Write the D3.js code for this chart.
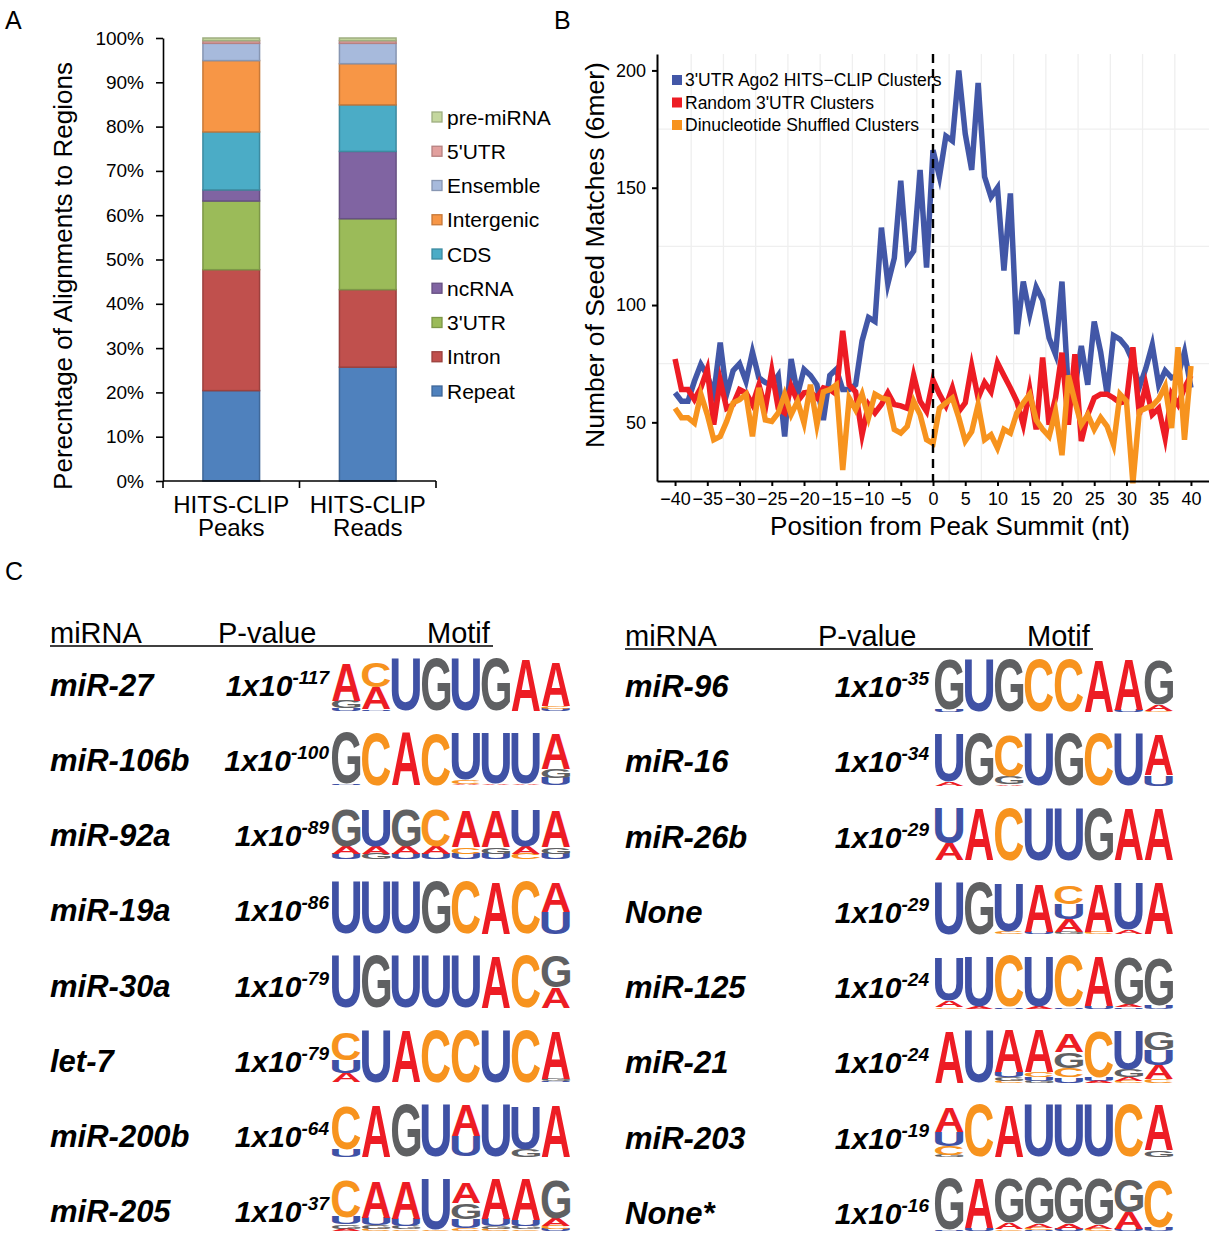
<!DOCTYPE html>
<html lang="en">
<head>
<meta charset="utf-8">
<title>Ago2 HITS-CLIP regions, seed matches and motifs</title>
<script src="https://cdn.jsdelivr.net/npm/d3@7"></script>
<style>
  body { margin: 0; background: #fff; }
  svg text { font-family: "Liberation Sans", Arial, Helvetica, sans-serif; }
</style>
</head>
<body>
<svg id="fig" width="1209" height="1233"></svg>
<script>
// ---------- panel A : genomic regions (% of alignments) ----------
const regionNames  = ["Repeat", "Intron", "3'UTR", "ncRNA", "CDS", "Intergenic", "Ensemble", "5'UTR", "pre-miRNA"];
const regionColors = ["#4f81bd", "#c0504d", "#9bbb59", "#8064a2", "#4bacc6", "#f79646", "#a7badc", "#e2a09e", "#c4d79e"];
const libraries    = ["Peaks", "Reads"];
const peaksPct     = [20.4, 27.3, 15.5, 2.5, 13.1, 16.1, 3.9, 0.6, 0.6];
const readsPct     = [25.7, 17.5, 16.0, 15.2, 10.5, 9.3, 4.6, 0.6, 0.6];
const pctTicks     = [0, 10, 20, 30, 40, 50, 60, 70, 80, 90, 100];

// ---------- panel B : seed matches around peak summit ----------
const positions = d3.range(-40, 41);
const agoClusters = [62.6, 59, 59, 67.5, 74.7, 70, 62, 84, 62, 72,
  75, 67.5, 80, 69, 67, 66, 70, 44, 77, 62,
  72.6, 70, 66, 51, 70, 72.6, 64, 64, 66, 84.7,
  94.7, 93, 133, 109, 120, 153, 119, 123, 157.6, 116,
  166, 154.7, 172, 170, 200, 173, 157.6, 194.7, 154.7, 146,
  150, 114.7, 147.6, 87.6, 110, 96, 107.6, 102, 86, 79,
  110, 63, 64.7, 82.6, 66, 93, 80, 62, 87, 85.4,
  82, 76, 65, 73, 83, 66, 72, 69, 70, 80, 64.7];
const randomClusters = [77, 64, 64, 59.7, 64.7, 72.6, 49, 68, 56, 57.6,
  64, 62.6, 57.6, 66, 56, 72, 56, 54, 65.4, 59,
  62.6, 63, 60.4, 64.7, 64, 62, 89, 66, 63, 44.7,
  57.6, 54, 57.6, 62.6, 57.6, 57, 56, 70, 59, 54.7,
  68, 62, 57, 64.7, 54.7, 58.3, 74, 60.4, 67, 63,
  75.4, 70, 64.7, 59, 49, 64, 47, 77.6, 49, 60.4,
  79.7, 49, 79, 42, 53.3, 60.4, 62, 62, 60.4, 58.3,
  59, 82, 53.3, 66, 53.3, 56, 43.3, 62, 57.6, 64.7, 70];
const shuffledClusters = [56, 52, 52, 49.7, 62, 53.3, 42.6, 44, 50.4, 58.3,
  59.7, 62, 44, 64.7, 51, 50.4, 54, 62, 53.3, 59,
  49.7, 66, 49, 63, 64, 66, 29.7, 60.4, 55.4, 62,
  52, 62, 60.4, 59.7, 47, 45.4, 48.3, 59, 53.3, 42.6,
  41, 56, 58.3, 60.4, 52, 42, 46, 57.6, 42.6, 44.7,
  39, 47, 45.4, 54, 58.3, 62, 51, 47, 44, 54.7,
  36, 70, 59, 49, 53.3, 47, 52, 48.3, 40.4, 62,
  59, 24, 54.7, 56, 57, 60, 65.4, 47.6, 82, 42.6, 74];
const seriesNames  = ["3'UTR Ago2 HITS\u2212CLIP Clusters", "Random 3'UTR Clusters", "Dinucleotide Shuffled Clusters"];
const seriesColors = ["#4257a7", "#ed1c24", "#f7931e"];
const seedTicks = [50, 100, 150, 200];
const posTicks  = d3.range(-40, 41, 5);

// ---------- panel C : motifs (letter heights in % of column) ----------
const leftNames  = ["miR-27", "miR-106b", "miR-92a", "miR-19a", "miR-30a", "let-7", "miR-200b", "miR-205"];
const leftExps   = ["-117", "-100", "-89", "-86", "-79", "-79", "-64", "-37"];
const leftMotifs = [
  "A70 G14 U5|C47 A40 U3|U97|G97|U97|G97|A97|A82 C5 U4",
  "G95 U3|C97|A98|C96|U86 C8 A2|U94 A2|U94 A3|A65 G16 U14",
  "G68 A13 U11|U68 A13 G11|G68 A13 U11|C68 A13 U11|A68 C13 U11|A68 G13 U11|U68 A13 C11|A68 G13 U11",
  "U97|U97|U97|G97|C97|A97|C97|A55 U40",
  "U97|G97|U97|U97|U97|A97|C97|G58 A38",
  "C52 A17 U24|U97|A97|C97|C97|U97|C97|A90 G4 U3",
  "C80 U13|A97|G97|U97|A57 U38|U97|U80 G14|A97",
  "C68 U13 G8 A4|A68 U14 G7 C4|A70 U14 G6 C3|U94 C3|A38 G30 U16 C5|A74 U13 G5 C4|A76 U11 G6 C3|G70 A14 C6 U4"
];
const rightNames  = ["miR-96", "miR-16", "miR-26b", "None", "miR-125", "miR-21", "miR-203", "None*"];
const rightExps   = ["-35", "-34", "-29", "-29", "-24", "-24", "-19", "-16"];
const rightMotifs = [
  "G92 U5|U97|G97|C97|C97|A97|A93 U4|G82 A12 C2",
  "U88 A8|G97|C76 G15 A3|U97|G97|C97|U97|A74 U20",
  "U64 A32|A97|C97|U97|U97|G97|A97|A97",
  "U97|G97|U90 C5|A90 U5|C34 A24 U28 G4|A90 C4|U86 A8|A97",
  "U80 A12 C3|U92 A4|C94 U3|U92 A4|C94 U3|A92 U4|G88 A5 U3|G88 U6",
  "A97|U97|A78 U9 G6 C4|A78 C9 U6 G4|A34 G30 C16 U10|C85 U6 A4|U72 G14 A6 C4|G34 U28 A26 C6",
  "A46 U26 C16 G4|C97|A97|U97|U97|U97|C97|A84 G12",
  "G95 U3|A92 U5|G82 A12 C3|G84 A8 C4 U2|G84 A10 U4|G86 A7 C4|G60 A30 U4|C88 U6"
];
const baseColors = {A: "#ed1c24", C: "#f7931e", G: "#5f6062", U: "#3f51a5"};

const svg = d3.select("#fig");

// panel letters
svg.append("text").attr("x", 5).attr("y", 29).attr("font-size", 25).text("A");
svg.append("text").attr("x", 554).attr("y", 29).attr("font-size", 25).text("B");
svg.append("text").attr("x", 5).attr("y", 580).attr("font-size", 25).text("C");

// =============== A ===============
const yA = d3.scaleLinear().domain([0, 100]).range([481, 38]);
const xA = d3.scaleBand().domain(libraries).range([163, 436]);
const barW = xA.bandwidth() * 0.415;
const libValues = [peaksPct, readsPct];
const rowsA = libraries.map((lib, i) => {
  const row = {lib: lib};
  regionNames.forEach((r, j) => row[r] = libValues[i][j]);
  return row;
});
const stackA = d3.stack().keys(regionNames)(rowsA);
const colorA = d3.scaleOrdinal().domain(regionNames).range(regionColors);

svg.append("g").selectAll("g")
  .data(stackA)
  .join("g")
    .attr("fill", d => colorA(d.key))
    .attr("stroke", d => d3.color(colorA(d.key)).darker(0.6))
    .attr("stroke-width", 1.5)
  .selectAll("rect")
  .data(d => d)
  .join("rect")
    .attr("x", d => xA(d.data.lib) + (xA.bandwidth() - barW) / 2)
    .attr("y", d => yA(d[1]))
    .attr("width", barW)
    .attr("height", d => yA(d[0]) - yA(d[1]));

const axA = svg.append("g").attr("transform", "translate(163,0)")
  .call(d3.axisLeft(yA).tickValues(pctTicks).tickFormat(d => d + "%").tickSize(7).tickSizeOuter(0).tickPadding(12));
axA.selectAll("text").attr("font-size", 19).attr("font-family", null).attr("fill", "#000");
axA.selectAll("line, path").attr("stroke", "#000").attr("stroke-width", 1.6);

// x axis with ticks on category boundaries
const xEdges = [xA.range()[0]].concat(libraries.map(l => xA(l) + xA.bandwidth()));
svg.append("line").attr("x1", xA.range()[0]).attr("x2", xA.range()[1])
  .attr("y1", yA(0)).attr("y2", yA(0)).attr("stroke", "#000").attr("stroke-width", 1.6);
svg.append("g").selectAll("line").data(xEdges).join("line")
  .attr("x1", d => d).attr("x2", d => d).attr("y1", yA(0)).attr("y2", yA(0) + 7)
  .attr("stroke", "#000").attr("stroke-width", 1.6);
const catA = svg.append("g").selectAll("text").data(libraries).join("text")
  .attr("x", d => xA(d) + xA.bandwidth() / 2)
  .attr("text-anchor", "middle").attr("font-size", 24);
catA.append("tspan").attr("x", d => xA(d) + xA.bandwidth() / 2).attr("y", 513).text("HITS-CLIP");
catA.append("tspan").attr("x", d => xA(d) + xA.bandwidth() / 2).attr("y", 536).text(d => d);

svg.append("text").attr("transform", "translate(72,276) rotate(-90)")
  .attr("text-anchor", "middle").attr("font-size", 26)
  .text("Perecntage of Alignments to Regions");

// legend A (top item = top of stack)
const legendOrder = regionNames.slice().reverse();
const yLeg = d3.scalePoint().domain(legendOrder).range([117, 391]);
const legA = svg.append("g").selectAll("g").data(legendOrder).join("g")
  .attr("transform", d => `translate(432,${yLeg(d)})`);
legA.append("rect").attr("x", 0).attr("y", -5).attr("width", 10).attr("height", 10)
  .attr("fill", d => colorA(d)).attr("stroke", d => d3.color(colorA(d)).darker(0.6)).attr("stroke-width", 1.3);
legA.append("text").attr("x", 15).attr("y", 7.5).attr("font-size", 21).text(d => d);

// =============== B ===============
const xB = d3.scaleLinear().domain([-42.8, 42.8]).range([657, 1209]);
const yB = d3.scaleLinear().domain([25, 207]).range([481, 54]);

// faint minor grid
const gridB = svg.append("g").attr("stroke", "#efefef").attr("stroke-width", 1.3);
gridB.selectAll("line.v").data(posTicks.slice(1)).join("line").attr("class", "v")
  .attr("x1", d => xB(d - 2.5)).attr("x2", d => xB(d - 2.5)).attr("y1", yB.range()[0]).attr("y2", yB.range()[1]);
gridB.selectAll("line.h").data([75, 125, 175]).join("line").attr("class", "h")
  .attr("x1", xB.range()[0]).attr("x2", xB.range()[1]).attr("y1", d => yB(d)).attr("y2", d => yB(d));

const lineB = d3.line().x((d, i) => xB(positions[i])).y(d => yB(d));
const seriesData = [agoClusters, randomClusters, shuffledClusters];
svg.append("g").selectAll("path").data(seriesData).join("path")
  .attr("d", lineB)
  .attr("fill", "none")
  .attr("stroke", (d, i) => seriesColors[i])
  .attr("stroke-width", 5.5)
  .attr("stroke-linejoin", "miter")
  .attr("stroke-miterlimit", 6);

svg.append("line").attr("x1", xB(0)).attr("x2", xB(0)).attr("y1", yB.range()[1]).attr("y2", yB.range()[0])
  .attr("stroke", "#000").attr("stroke-width", 2.4).attr("stroke-dasharray", "9,6");

const ayB = svg.append("g").attr("transform", `translate(${xB.range()[0]},0)`)
  .call(d3.axisLeft(yB).tickValues(seedTicks).tickSize(5).tickSizeOuter(0).tickPadding(6));
const axB = svg.append("g").attr("transform", `translate(0,${yB.range()[0]})`)
  .call(d3.axisBottom(xB).tickValues(posTicks).tickFormat(d => d < 0 ? "\u2212" + Math.abs(d) : d)
    .tickSize(5).tickSizeOuter(0).tickPadding(6));
[ayB, axB].forEach(g => {
  g.selectAll("text").attr("font-size", 18).attr("font-family", null).attr("fill", "#000");
  g.selectAll("line, path").attr("stroke", "#000").attr("stroke-width", 2);
});

svg.append("text").attr("transform", "translate(604,255) rotate(-90)")
  .attr("text-anchor", "middle").attr("font-size", 26.5).text("Number of Seed Matches (6mer)");
svg.append("text").attr("x", 950).attr("y", 535)
  .attr("text-anchor", "middle").attr("font-size", 26).text("Position from Peak Summit (nt)");

const yLegB = d3.scalePoint().domain(seriesNames).range([80, 125]);
const legB = svg.append("g").selectAll("g").data(seriesNames).join("g")
  .attr("transform", d => `translate(672,${yLegB(d)})`);
legB.append("rect").attr("x", 0).attr("y", -5).attr("width", 10).attr("height", 10)
  .attr("fill", (d, i) => seriesColors[i]);
legB.append("text").attr("x", 13).attr("y", 6).attr("font-size", 17.5).text(d => d);

// =============== C ===============
function header(x0, x1, xs, yBase) {
  const g = svg.append("g");
  g.selectAll("text").data(["miRNA", "P-value", "Motif"]).join("text")
    .attr("x", (d, i) => xs[i]).attr("y", yBase).attr("font-size", 29).text(d => d);
  g.append("line").attr("x1", x0).attr("x2", x1).attr("y1", yBase + 3).attr("y2", yBase + 3)
    .attr("stroke", "#000").attr("stroke-width", 1.5);
}
header(50, 493, [50, 218, 427], 643);
header(625, 1093, [625, 818, 1027], 646);

// ink metrics of the bold letters, used to stretch each glyph into its box
const ctx = document.createElement("canvas").getContext("2d");
ctx.font = "bold 100px 'Liberation Sans'";
const ink = {};
"ACGU".split("").forEach(ch => {
  const m = ctx.measureText(ch);
  ink[ch] = {l: m.actualBoundingBoxLeft, r: m.actualBoundingBoxRight,
             a: m.actualBoundingBoxAscent, d: m.actualBoundingBoxDescent};
});

function parseMotif(s) {
  return s.split("|").map(col => col.trim().split(/\s+/).map(t => ({base: t[0], h: +t.slice(1)})));
}

function motifBlock(names, exps, motifs, nameX, pvalRight, logoRange, rowRange, baseRange) {
  const rowY = d3.scaleLinear().domain([0, names.length - 1]).range(rowRange);
  const logoBase = d3.scaleLinear().domain([0, names.length - 1]).range(baseRange);
  const g = svg.append("g");
  g.selectAll("text.name").data(names).join("text").attr("class", "name")
    .attr("x", nameX).attr("y", (d, i) => rowY(i) + 11)
    .attr("font-size", 31).attr("font-weight", "bold").attr("font-style", "italic").text(d => d);
  const pv = g.selectAll("text.pv").data(exps).join("text").attr("class", "pv")
    .attr("x", pvalRight).attr("y", (d, i) => rowY(i) + 11).attr("text-anchor", "end")
    .attr("font-size", 30).attr("font-weight", "bold").attr("font-style", "italic");
  pv.append("tspan").text("1x10");
  pv.append("tspan").attr("dy", -12).attr("font-size", 19).text(d => d);

  const logoH = 54;
  motifs.forEach((m, r) => {
    const cols = parseMotif(m);
    const xc = d3.scaleBand().domain(d3.range(cols.length)).range(logoRange).paddingInner(0.05);
    const yL = d3.scaleLinear().domain([0, 100]).range([logoBase(r), logoBase(r) - logoH]);
    cols.forEach((col, c) => {
      const sorted = col.slice().sort((a, b) => a.h - b.h);
      let acc = 0;
      sorted.forEach(e => {
        const y0 = yL(acc + e.h), y1 = yL(acc);
        acc += e.h;
        const k = ink[e.base];
        const sx = xc.bandwidth() / (k.l + k.r);
        const sy = (y1 - y0) / (k.a + k.d);
        g.append("text")
          .attr("transform", `translate(${xc(c) + k.l * sx},${y0 + k.a * sy}) scale(${sx},${sy})`)
          .attr("font-size", 100).attr("font-weight", "bold")
          .attr("fill", baseColors[e.base]).text(e.base);
      });
    });
  });
}
motifBlock(leftNames, leftExps, leftMotifs, 50, 329, [332, 570], [685, 1211], [711, 1231]);
motifBlock(rightNames, rightExps, rightMotifs, 625, 929, [935, 1173], [686, 1213], [712, 1231]);
</script>
</body>
</html>
